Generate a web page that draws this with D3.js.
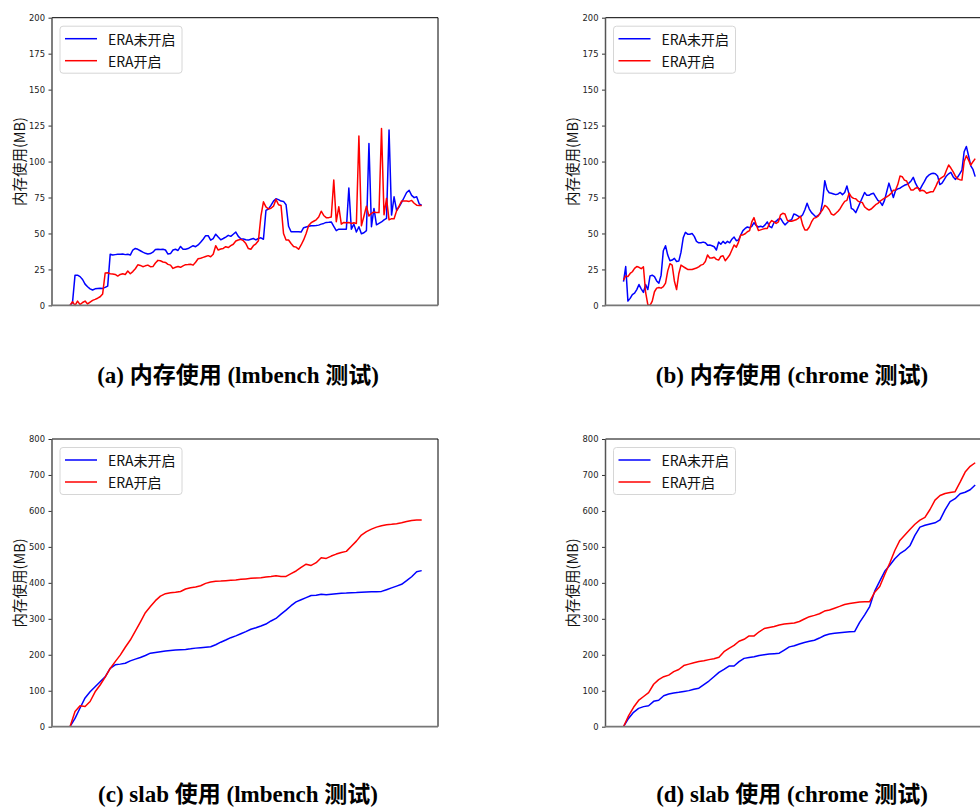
<!DOCTYPE html>
<html>
<head>
<meta charset="utf-8">
<script src="https://cdn.jsdelivr.net/npm/d3@7"></script>
<style>
  html, body { margin: 0; padding: 0; background: #fff; }
  svg { display: block; }
</style>
</head>
<body>
<svg id="fig" width="980" height="808"></svg>
<script>
// ---- data -------------------------------------------------------------
const seriesNames = ["ERA未开启", "ERA开启"];
const seriesColors = ["#0000ff", "#ff0000"];
const yLabel = "内存使用(MB)";
const captions = [
  "(a) 内存使用 (lmbench 测试)",
  "(b) 内存使用 (chrome 测试)",
  "(c) slab 使用 (lmbench 测试)",
  "(d) slab 使用 (chrome 测试)"
];
const memTicks = [0, 25, 50, 75, 100, 125, 150, 175, 200];
const slabTicks = [0, 100, 200, 300, 400, 500, 600, 700, 800];

// memory usage, lmbench run (MB per sample)
const memLmbenchOff = [
  0, 2, 21, 21, 20, 18, 14.8, 13, 11.5, 10.7,
  11.5, 11.8, 12, 11.8, 12.5, 13.4, 35.5, 35, 35.3, 35.5,
  35.5, 35.7, 35.3, 35.5, 35, 38.5, 39.6, 39, 38, 37,
  36.2, 35.7, 36, 37, 38.8, 39, 38.8, 39, 38.5, 35.7,
  36, 38.5, 39, 38.2, 41, 39, 39, 39.5, 40.5, 41.5,
  40.8, 42, 43.9, 46, 48.5, 48.5, 45.4, 46.5, 49.5, 47.5,
  45.6, 46.5, 47.5, 48.7, 48, 49.5, 51, 48, 46.3, 46.2,
  45.6, 45.4, 46, 46.5, 45.5, 46.5, 47, 46, 66, 67,
  69.5, 72.5, 74.2, 73.5, 72.5, 72.3, 70, 55, 51.2, 51.2,
  51.2, 51.2, 51, 54, 54.5, 55, 55.4, 55.4, 55.5, 55.8,
  56.5, 57, 57.7, 57.8, 58, 55, 52, 53, 53, 53,
  53, 81.6, 53, 56.5, 51, 54.7, 49.8, 50.5, 52, 112.6,
  54.7, 67.4, 56, 57, 58, 59.5, 60.5, 121.9, 62.8, 75.5,
  66, 68.5, 71.6, 75, 78.5, 80, 76.5, 74.9, 75.5, 70.6, 69.5
];
const memLmbenchOn = [
  0, 2.5, 0, 3, 0.5, 2, 3, 1, 2.3, 3.5,
  4.2, 5, 6, 8, 22.5, 22.7, 22, 21.8, 21.5, 20.4,
  21.5, 22, 21.5, 23.9, 22, 23.5, 25.5, 28.2, 27.8, 26.9,
  27.5, 28, 26.9, 27, 29.5, 31.3, 31, 30.2, 29.9, 28.5,
  28, 25.7, 26.5, 27, 26.5, 27.5, 28.3, 28.4, 28.6, 28,
  30, 32.4, 32.8, 33.4, 34, 34.6, 33.8, 35.5, 41.5, 38.5,
  39.2, 39.6, 40.8, 40.2, 41.5, 42.5, 44.8, 45.5, 45.9, 45,
  43, 39.5, 39, 41.5, 42.8, 45, 62, 72, 68.5, 67,
  67.5, 69, 73.7, 70, 69.5, 50, 45.4, 45.5, 43, 41,
  40.5, 39, 42, 45.5, 50, 55.5, 57.5, 58.5, 59.5, 61.5,
  65.5, 62.5, 61, 61, 61.5, 87.1, 58.2, 68.6, 56.5, 57.7,
  57.5, 57.6, 57, 57.5, 57, 117.7, 55.4, 62, 69, 62.1,
  64, 64.9, 64.5, 64.5, 123, 63, 74.4, 59.5, 60.3, 60.3,
  65.7, 69, 72.6, 72.5, 72.6, 72.3, 73, 71, 69.7, 69.5, 69.5
];

// memory usage, chrome run (MB per sample)
const memChromeOff = [
  16.5, 27, 3, 4.9, 7.5, 8.5, 11, 14.5, 11.5, 9,
  14.5, 11, 20.5, 21, 20, 17, 15.5, 21, 38, 41.5,
  35, 31, 31.5, 32.7, 30.5, 30.8, 37, 47, 50.8, 49.5,
  49.5, 50, 48, 44.5, 43.5, 43.5, 44, 43.5, 41.9, 42,
  41.5, 40.8, 38.5, 44, 42.5, 44.5, 43, 44.5, 43.5, 46,
  47.5, 45, 45.5, 48.9, 52, 53.5, 54.5, 54, 55, 57.5,
  55.5, 54.5, 55, 54.5, 56, 58, 55, 54, 57.5, 58.5,
  60, 60.5, 58, 56, 57.5, 59, 59.5, 63.5, 63, 62,
  61.5, 63, 66.5, 71, 67, 64.5, 63, 61.5, 62.5, 64,
  72, 86.7, 80.5, 78.3, 78, 77.5, 77, 77.5, 78.5, 77,
  78.5, 83, 77, 67.5, 66.5, 64.5, 68, 71.5, 75, 78.5,
  76.5, 76.5, 77.5, 78, 75.5, 73, 72, 69.5, 73, 79,
  85, 80, 75, 80, 81, 81.5, 82.5, 83.5, 84, 85,
  86.5, 89, 85, 82, 80.5, 83.5, 86, 89, 90.5, 91.5,
  91.8, 91.5, 90, 84, 85, 87.5, 90, 91.5, 92.5, 89.5,
  87.6, 89, 91.5, 94, 106.8, 110.5, 104, 97, 94.5, 89.5
];
const memChromeOn = [
  17.6, 20.5, 20, 22.2, 23.4, 25.7, 27, 26.5, 25.5, 26.9,
  9, 0.5, 0, 3, 9.5, 12, 12.5, 12, 13, 15.5,
  24, 29, 28, 17, 11, 22, 28, 27, 26, 25,
  25, 25, 25.5, 26, 26.8, 28, 28.5, 30.5, 35, 33,
  33, 33.5, 32, 31.5, 34, 34.5, 31, 33, 35, 38.5,
  42, 40.5, 44, 48.9, 49, 49.8, 51.2, 52, 58, 61,
  56, 52, 52.5, 53, 53.5, 53.5, 57, 59, 58, 57,
  58, 63, 64, 63.5, 59.3, 58.5, 58.5, 59, 59.5, 60.5,
  62, 56, 52.4, 52.4, 54.5, 58, 60.5, 61, 62, 64.5,
  66.5, 69.5, 68.5, 66.5, 63.5, 62.8, 64, 65.5, 67.4, 70,
  72.3, 73, 78, 75.5, 74.4, 74.2, 72.5, 71.8, 71.5, 68.5,
  67.2, 66.3, 67, 68.5, 70, 70.9, 72.5, 73.5, 74.5, 75.5,
  76.5, 78, 80, 80.2, 84, 89.9, 89.5, 87.1, 86.5, 83,
  80.2, 80.2, 81.5, 82, 79.5, 80, 79.5, 78, 78.5, 79,
  79, 82, 85.5, 88, 89, 90, 94, 97.6, 95.5, 93,
  90, 88, 87.4, 87.1, 100, 104, 101, 97.5, 99.9, 102
];

// slab usage, lmbench run (MB per sample)
const slabLmbenchOff = [
  0, 23, 52, 80, 97, 111, 125, 138.5, 162, 172,
  174, 176.5, 183, 188, 192.5, 198, 204.5, 206.5, 208.5, 210.5,
  212, 213, 214.3, 215, 216.5, 218.5, 219.8, 221, 222.5, 228,
  235, 241, 247.5, 252.5, 258.5, 264.5, 271, 275, 280, 285.5,
  294, 301, 313, 324, 336.5, 347, 353, 359, 365, 365.5,
  368.5, 367, 368.5, 370, 371, 371.5, 372.6, 373, 374, 374.5,
  375, 375.5, 376.2, 381, 386, 391, 396, 406, 417, 431, 434
];
const slabLmbenchOn = [
  0, 42, 58, 56, 70, 97, 116, 138, 162, 181,
  199, 221, 241, 266, 291, 317, 334, 350.5, 363, 370,
  372.5, 374, 376, 383, 386.5, 388.5, 392, 398.5, 402.5, 404.5,
  405, 406, 407, 408, 409.7, 411, 412.5, 413.5, 414.5, 416,
  417.5, 419.5, 417.5, 418, 425.5, 433, 443, 452, 448.5, 456,
  470, 468, 474.5, 480, 484.5, 487.5, 502, 516, 533, 542.5,
  549.5, 555, 559, 561.5, 562.7, 564.5, 567, 570.5, 573.5, 574.8, 574.8
];

// slab usage, chrome run (MB per sample)
const slabChromeOff = [
  0, 23, 40, 51, 55.8, 58.3, 70.5, 73.5, 86, 90.8,
  93.5, 95.5, 98, 100.3, 104, 107, 117, 127, 139, 151,
  159.4, 168.7, 168.7, 180.8, 190, 192.4, 194.5, 198, 200, 202,
  203, 204.3, 213, 222, 225, 230, 234, 237.5, 240.5, 246.5,
  253.5, 258, 259.7, 261.5, 262.7, 264, 264.5, 290, 311, 334,
  377, 405, 432, 449, 467, 481, 490, 503, 532, 555,
  560, 563.5, 567, 575, 603, 626, 634, 648, 652, 659, 672
];
const slabChromeOn = [
  0, 30, 54, 73, 84, 95, 118, 131, 139, 143.5,
  153, 159, 170, 174, 178, 181, 183.5, 186.5, 189, 193,
  208.6, 218, 226, 237.5, 243, 252.4, 252.4, 264, 273, 276,
  278.5, 283, 285.5, 287, 288.5, 292.5, 299.5, 306, 309.5, 314,
  321.6, 324.5, 329.5, 334.5, 340, 342.5, 344.5, 346.5, 347.6, 347.6,
  374, 390, 423, 455, 490, 518, 533, 548.5, 563, 574.5,
  582, 604, 630, 643, 648.5, 651, 653.5, 680, 708, 724, 734
];

// ---- layout -----------------------------------------------------------
const svg = d3.select("#fig");
const plotW = 386, plotH = 287.7;
const padL = 18, padR = 16.3;   // gap between frame and first/last sample

const panels = [
  { series: [memLmbenchOff, memLmbenchOn],   ticks: memTicks,  left: 52,    top: 17.7, caption: captions[0], capX: 238, capY: 383 },
  { series: [memChromeOff, memChromeOn],     ticks: memTicks,  left: 605.5, top: 17.7, caption: captions[1], capX: 792, capY: 383 },
  { series: [slabLmbenchOff, slabLmbenchOn], ticks: slabTicks, left: 52,    top: 439,  caption: captions[2], capX: 238, capY: 802 },
  { series: [slabChromeOff, slabChromeOn],   ticks: slabTicks, left: 605.5, top: 439,  caption: captions[3], capX: 792, capY: 802 }
];

const cjkSans = "'Noto Sans CJK SC', 'Noto Sans', sans-serif";

panels.forEach(p => {
  const g = svg.append("g");
  const n = p.series[0].length;
  const x = d3.scaleLinear().domain([0, n - 1]).range([p.left + padL, p.left + plotW - padR]);
  const y = d3.scaleLinear().domain([0, p.ticks[p.ticks.length - 1]]).range([p.top + plotH, p.top]);

  // y axis ticks and labels
  const ax = g.append("g")
    .attr("transform", `translate(${p.left},0)`)
    .call(d3.axisLeft(y).tickValues(p.ticks).tickSize(3.5).tickPadding(3.5));
  ax.select(".domain").remove();
  ax.attr("font-family", "'DejaVu Sans', sans-serif").attr("font-size", 8.4);
  ax.selectAll(".tick text").attr("fill", "#222");
  ax.selectAll(".tick line").attr("stroke", "#333").attr("stroke-width", 1);

  // data lines
  const line = d3.line().x((d, i) => x(i)).y(d => y(d));
  p.series.forEach((s, k) => {
    g.append("path")
      .datum(s)
      .attr("d", line)
      .attr("fill", "none")
      .attr("stroke", seriesColors[k])
      .attr("stroke-width", 1.5)
      .attr("stroke-linejoin", "round");
  });

  // frame
  const x0 = p.left, x1 = p.left + plotW, y0 = p.top, y1 = p.top + plotH;
  g.append("line").attr("x1", x0).attr("x2", x1).attr("y1", y0).attr("y2", y0)
    .attr("stroke", "#000").attr("stroke-width", 1);
  g.append("line").attr("x1", x1).attr("x2", x1).attr("y1", y0).attr("y2", y1)
    .attr("stroke", "#000").attr("stroke-width", 1);
  g.append("line").attr("x1", x0).attr("x2", x0).attr("y1", y0).attr("y2", y1)
    .attr("stroke", "#555").attr("stroke-width", 1.5);
  g.append("line").attr("x1", x0 - 0.75).attr("x2", x1).attr("y1", y1).attr("y2", y1)
    .attr("stroke", "#777").attr("stroke-width", 1.8);

  // legend
  const lg = g.append("g").attr("transform", `translate(${p.left + 8},${p.top + 8.5})`);
  lg.append("rect")
    .attr("width", 122).attr("height", 47).attr("rx", 3).attr("ry", 3)
    .attr("fill", "#fff").attr("fill-opacity", 0.8)
    .attr("stroke", "#d6d6d6").attr("stroke-width", 1);
  seriesNames.forEach((name, k) => {
    const ly = 12.5 + k * 22;
    lg.append("line").attr("x1", 5).attr("x2", 37).attr("y1", ly).attr("y2", ly)
      .attr("stroke", seriesColors[k]).attr("stroke-width", 1.5);
    lg.append("text").attr("x", 48).attr("y", ly)
      .attr("dominant-baseline", "central")
      .attr("font-family", cjkSans).attr("font-size", 14).attr("fill", "#111")
      .text(name);
  });

  // y label
  g.append("text")
    .attr("transform", `translate(${p.left - 34},${p.top + plotH / 2}) rotate(-90)`)
    .attr("text-anchor", "middle").attr("dominant-baseline", "central")
    .attr("font-family", cjkSans).attr("font-size", 14.5).attr("fill", "#111")
    .text(yLabel);

  // caption
  svg.append("text")
    .attr("x", p.capX).attr("y", p.capY)
    .attr("text-anchor", "middle")
    .attr("font-family", "'Liberation Serif', 'Times New Roman', 'Noto Sans CJK SC', serif")
    .attr("font-weight", "bold").attr("font-size", 23).attr("fill", "#000")
    .text(p.caption);
});
</script>
</body>
</html>
